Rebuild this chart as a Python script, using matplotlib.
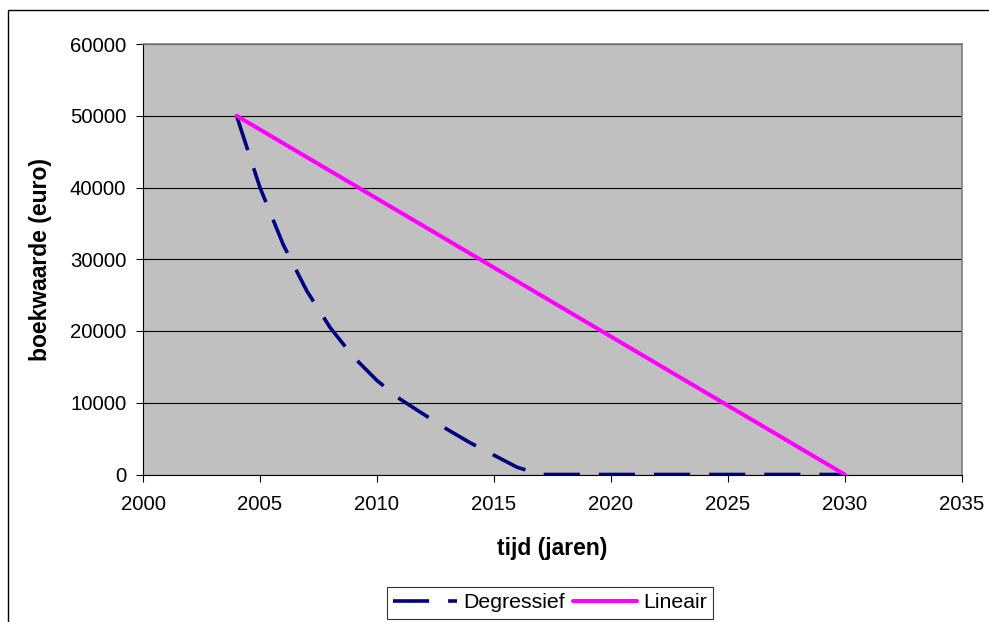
import matplotlib
matplotlib.use('Agg')
import matplotlib.pyplot as plt
from matplotlib.patches import Rectangle

# data
jaren = list(range(2004, 2031))
degressief = [50000, 40000, 32000, 25600, 20480, 16384, 13107, 10486, 8389,
              6300, 4400, 2700, 1000, 0, 0, 0, 0, 0, 0, 0, 0, 0, 0, 0, 0, 0, 0]
lineair = [50000, 48077, 46154, 44231, 42308, 40385, 38462, 36538, 34615,
           32692, 30769, 28846, 26923, 25000, 23077, 21154, 19231, 17308,
           15385, 13462, 11538, 9615, 7692, 5769, 3846, 1923, 0]
x_ticks = [2000, 2005, 2010, 2015, 2020, 2025, 2030, 2035]
y_ticks = [0, 10000, 20000, 30000, 40000, 50000, 60000]

plt.rcParams['font.family'] = ['Liberation Sans', 'DejaVu Sans']
plt.rcParams['lines.scale_dashes'] = False

fig = plt.figure(figsize=(9.89, 6.22), dpi=100)
fig.patch.set_facecolor('white')

# outer chart frame (runs off the right and bottom edges)
fig.patches.append(Rectangle((7.5 / 989, -0.2), 1.2, 1.2 - 10 / 622,
                             transform=fig.transFigure, fill=False,
                             edgecolor='black', linewidth=1.0))

ax = fig.add_axes([143 / 989, 1 - 474.5 / 622, 818.7 / 989, 430.5 / 622])
ax.set_facecolor('#C0C0C0')

ax.plot(jaren, degressief, color='#000080', linewidth=2.6,
        dashes=(26, 13.7), dash_capstyle='butt', label='Degressief', zorder=3)
ax.plot(jaren, lineair, color='#FF00FF', linewidth=2.9,
        solid_capstyle='round', label='Lineair', zorder=3)

ax.set_xlim(2000, 2035)
ax.set_ylim(0, 60000)
ax.set_xticks(x_ticks)
ax.set_yticks(y_ticks)
ax.yaxis.grid(True, color='black', linewidth=0.8)
ax.set_axisbelow(True)

for s in ['top', 'right']:
    ax.spines[s].set_color('#808080')
    ax.spines[s].set_linewidth(1.2)
for s in ['left', 'bottom']:
    ax.spines[s].set_color('black')
    ax.spines[s].set_linewidth(0.8)

ax.tick_params(axis='both', direction='out', length=5, width=0.8,
               labelsize=14.7, color='black')
ax.tick_params(axis='y', pad=7)
ax.tick_params(axis='x', pad=10)

ax.set_xlabel('tijd (jaren)', fontsize=16.5, fontweight='bold')
ax.set_ylabel('boekwaarde (euro)', fontsize=16.5, fontweight='bold')
ax.xaxis.set_label_coords(0.5, -0.145)
ax.yaxis.set_label_coords(-0.111, 0.5)

leg = fig.legend(loc='center', bbox_to_anchor=(550 / 989, 1 - 603 / 622),
                 ncol=2, fontsize=15.3, frameon=True, fancybox=False,
                 edgecolor='black', handlelength=3.0, handletextpad=0.3,
                 columnspacing=0.4, borderpad=0.3, borderaxespad=0)
leg.get_frame().set_linewidth(0.8)

fig.savefig('out.png', dpi=100)
